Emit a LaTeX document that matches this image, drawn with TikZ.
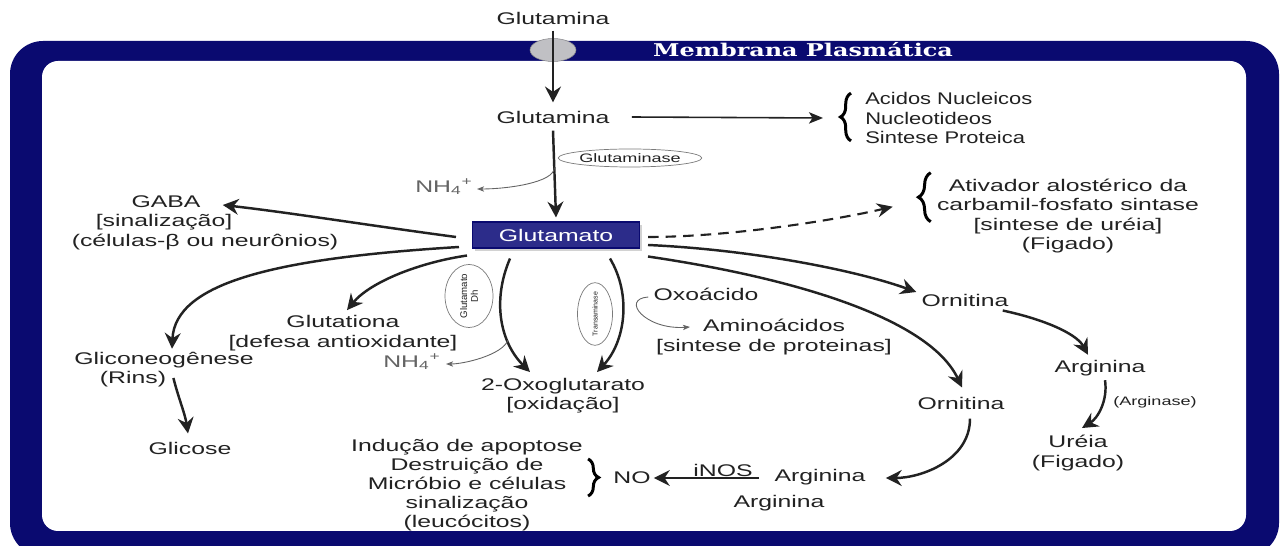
\documentclass[tikz,border=0pt]{standalone}
\usepackage{fontspec}
\setmainfont{Liberation Sans}[FakeStretch=1.47]
\newfontfamily\plainsans{Liberation Sans}
\newfontfamily\narrowsans{Liberation Sans}[FakeStretch=1.3]
\newfontfamily\memfont{DejaVu Serif}[FakeStretch=1.36]
\usetikzlibrary{arrows.meta,decorations.pathreplacing,shadows,calc,shapes.geometric}
\definecolor{navy}{RGB}{10,10,112}
\definecolor{gbox}{RGB}{44,44,138}
\definecolor{ink}{RGB}{34,34,34}
\definecolor{chan}{RGB}{192,192,196}
\begin{document}
\begin{tikzpicture}[x=0.02cm,y=-0.02cm,
  lbl/.style={font=\fontsize{9.6}{11}\selectfont,text=ink,inner sep=0pt,align=center},
  nh/.style={font=\fontsize{9.6}{11}\selectfont,text=ink!70,inner sep=0pt},
  arr/.style={draw=ink,line width=1.4pt,-{Stealth[length=9pt,width=9pt,inset=3pt]}},
  marr/.style={draw=ink,line width=0.9pt,-{Stealth[length=8pt,width=6.5pt,inset=2pt]}},
  tarr/.style={draw=ink!70,line width=0.5pt,-{Stealth[length=4pt,width=3pt,inset=1pt]}},
  enz/.style={ellipse,draw=ink!60,line width=0.4pt,inner sep=0pt},
  brc/.style={draw=black,line width=1.7pt,decorate,decoration={brace,amplitude=#1}},
]
\useasboundingbox (0,0) rectangle (1284,546);
% membrane
\fill[navy, rounded corners=0.66cm] (10,41) rectangle (1279,556);
\fill[white, rounded corners=0.32cm] (42,61) rectangle (1246,531);
\node[ellipse, fill=chan, draw=chan!70!black, line width=0.3pt, minimum width=0.92cm, minimum height=0.46cm, inner sep=0pt] (chan) at (553,50) {};
\node[font=\memfont\bfseries\fontsize{10}{12}\selectfont, text=white, inner sep=0pt] (mem) at (803,50) {Membrana Plasmática};

% nodes
\node[lbl] (gin) at (553,18) {Glutamina};
\node[lbl] (gm) at (553,117) {Glutamina};
\node[lbl, font=\narrowsans\fontsize{9.6}{11}\selectfont, align=left, anchor=west] (acid) at (865,118) {Acidos Nucleicos\\Nucleotideos\\Sintese Proteica};
\node[enz, minimum width=2.7cm, minimum height=0.36cm, font=\fontsize{7}{8}\selectfont, text=ink] (gase) at (630,158) {Glutaminase};
\node[nh] (nh1) at (444,187) {NH\textsubscript{4}\textsuperscript{+}};
\node[fill=gbox, draw=navy, line width=0.6pt, text=white, font=\fontsize{9.6}{11}\selectfont, minimum width=3.34cm, minimum height=0.52cm, inner sep=0pt, drop shadow={opacity=0.35, shadow xshift=1.5pt, shadow yshift=-1.5pt}] (gt) at (556,235) {Glutamato};
\node[lbl] (ativ) at (1068,216) {Ativador alostérico da\\carbamil-fosfato sintase\\{[}sintese de uréia{]}\\(Figado)};
\node[lbl] (gaba1) at (166,202) {GABA};
\node[lbl] (gaba2) at (164,222) {{[}sinalização{]}};
\node[lbl] (gaba3) at (205,242) {(células-β ou neurônios)};
\node[lbl] (glut) at (343,333) {Glutationa\\{[}defesa antioxidante{]}};
\node[lbl] (glic1) at (164,360) {Gliconeogênese};
\node[lbl] (glic2) at (133,379) {(Rins)};
\node[lbl] (glicose) at (190,448) {Glicose};
\node[nh] (nh2) at (412,362) {NH\textsubscript{4}\textsuperscript{+}};
\node[enz, rotate=90, minimum width=1.04cm, minimum height=0.96cm, font=\plainsans\fontsize{5.5}{6}\selectfont, text=ink, align=center] (gdh) at (469,296) {Glutamato\\Dh};
\node[enz, rotate=90, minimum width=1.04cm, minimum height=0.7cm, font=\plainsans\fontsize{4}{5}\selectfont, text=ink] (trans) at (595,314) {Transaminase};
\node[lbl] (oxo) at (563,396) {2-Oxoglutarato\\{[}oxidação{]}};
\node[lbl] (oxa) at (706,294) {Oxoácido};
\node[lbl] (amino) at (774,337) {Aminoácidos\\{[}sintese de proteinas{]}};
\node[lbl] (orn1) at (965,300) {Ornitina};
\node[lbl] (orn2) at (961,403) {Ornitina};
\node[lbl] (arg1) at (1100,368) {Arginina};
\node[lbl, font=\fontsize{7}{8}\selectfont] (argase) at (1155,402) {(Arginase)};
\node[lbl] (ureia) at (1078,453) {Uréia\\(Figado)};
\node[lbl] (arg2) at (820,477) {Arginina};
\node[lbl] (arg3) at (779,503) {Arginina};
\node[lbl] (no) at (632,478) {NO};
\node[lbl] (inos) at (723,470) {iNOS};
\node[lbl, font=\fontsize{9.6}{10.8}\selectfont] (ind) at (467,485) {Indução de apoptose\\Destruição de\\Micróbio e células\\sinalização\\(leucócitos)};

% connectors
\draw[arr] ($(gin.south)+(0,6)$) -- ($(gm.north)+(0,-8)$);
\draw[arr] ($(gm.south)+(0,7)$) -- ($(gt.north)+(0,-4)$);
\draw[marr] ($(gm.east)+(22,0)$) -- ($(acid.west)+(-42,0)$);
\draw[brc=6pt] ($(acid.south west)+(-14,-3)$) -- ($(acid.north west)+(-14,1)$);
\draw[tarr] ($(gm.south)!0.45!(gt.north)$) .. controls +(0,15) and +(30,0) .. ($(nh1.east)+(4,2)$);

\draw[arr] ($(gt.west)+(-16,2)$) .. controls +(-90,-12) and +(70,8) .. ($(gaba1.east)+(22,3)$);
\draw[arr] ($(gt.west)+(-13,12)$) .. controls +(-180,11) and +(3,-67) .. ($(glic1.north)+(8,-3)$);
\draw[arr] ($(gt.south west)+(-5,7)$) .. controls +(-48,7) and +(23,-28) .. ($(glut.north)+(4,-5)$);
\draw[arr] ($(glic2.east)+(7,-1)$) .. controls +(5,20) and +(-3,-20) .. ($(glicose.north)+(-2,-8)$);

\draw[arr] ($(gt.south)+(-46,10)$) .. controls +(-18,42) and +(-30,-30) .. coordinate[pos=0.68] (dhp) ($(oxo.north)+(-33,-6)$);
\draw[arr] ($(gt.south)+(54,10)$) .. controls +(22,37) and +(28,-30) .. ($(oxo.north)+(34,-6)$);
\draw[tarr] (dhp) .. controls +(-6,15) and +(18,0) .. ($(nh2.east)+(5,2)$);
\draw[tarr] ($(oxa.west)+(-5,3)$) .. controls +(-28,2) and +(-45,3) .. ($(amino.center)+(-84,-10)$);

\draw[draw=ink, line width=1.2pt, dash pattern=on 6pt off 4pt, -{Stealth[length=9pt,width=8pt,inset=3pt]}] ($(gt.east)+(8,2)$) .. controls +(80,0) and +(-60,14) .. ($(ativ.north west)+(-44,28)$);
\draw[brc=7pt] ($(ativ.north west)+(-6,43)$) -- ($(ativ.north west)+(-6,-6)$);

\draw[arr] ($(gt.east)+(8,10)$) .. controls +(110,5) and +(-55,-20) .. ($(orn1.west)+(-5,-8)$);
\draw[arr] ($(gt.south east)+(8,8)$) .. controls +(150,22) and +(-32,-68) .. ($(orn2.north)+(1,-9)$);
\draw[arr] ($(orn1.south east)+(-6,4)$) .. controls +(38,8) and +(-12,-22) .. ($(arg1.north)+(-12,-5)$);
\draw[arr] ($(arg1.south)+(5,4)$) .. controls +(3,20) and +(16,-10) .. ($(ureia.north)+(4,-7)$);
\draw[arr] ($(orn2.south)+(9,9)$) .. controls +(0,42) and +(35,0) .. ($(arg2.east)+(20,1)$);
\draw[arr] ($(arg2.west)+(-15,1)$) -- ($(no.east)+(3,0)$);
\draw[brc=6pt] ($(no.west)+(-25,-19)$) -- ($(no.west)+(-25,18)$);
\end{tikzpicture}
\end{document}
